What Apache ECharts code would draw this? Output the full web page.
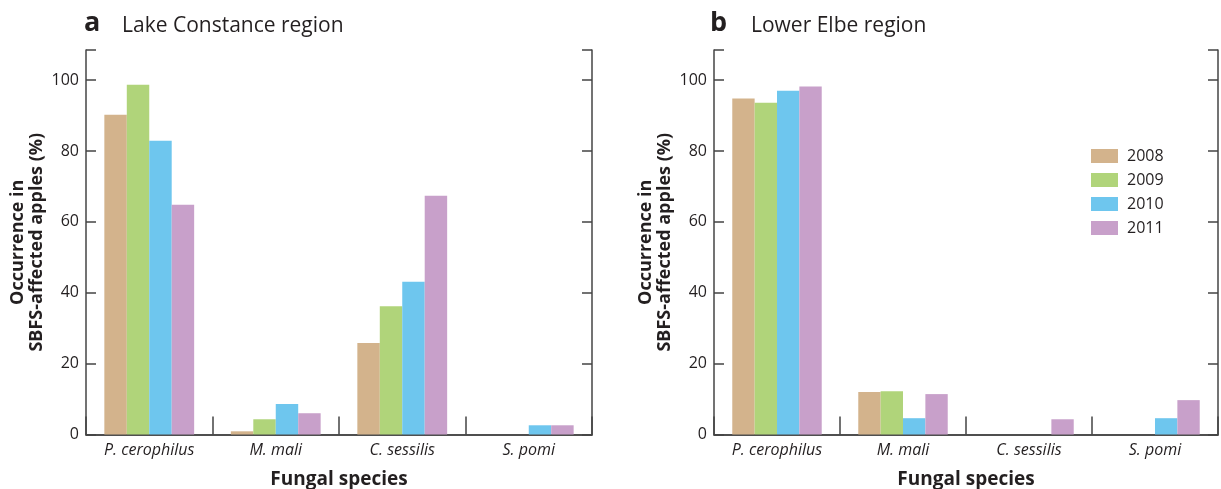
<!DOCTYPE html>
<html><head><meta charset="utf-8">
<script src="https://cdn.jsdelivr.net/npm/echarts@6/dist/echarts.min.js"></script>
<style>html,body{margin:0;padding:0;background:#fff}#c{width:1221px;height:489px}</style>
</head><body><div id="c"></div>
<script>
const categories = ['P. cerophilus', 'M. mali', 'C. sessilis', 'S. pomi'];
const years = ['2008', '2009', '2010', '2011'];
const yearColors = ['#D3B38C', '#B0D47A', '#6EC6EE', '#C8A0CA'];
const yTicks = [0, 20, 40, 60, 80, 100];
// Lake Constance region
const lake2008 = [90.2, 0.9, 25.8, 0];
const lake2009 = [98.7, 4.3, 36.2, 0];
const lake2010 = [82.9, 8.6, 43.1, 2.6];
const lake2011 = [64.8, 6.0, 67.4, 2.6];
// Lower Elbe region
const elbe2008 = [94.8, 12.0, 0, 0];
const elbe2009 = [93.6, 12.2, 0, 0];
const elbe2010 = [97.0, 4.6, 0, 4.6];
const elbe2011 = [98.2, 11.4, 4.3, 9.7];

const FONT = '"Open Sans", "Noto Sans", sans-serif';
const TXT = '#231f20';
const AX = '#444';
const YMAX = 108.5;
const XT = 9, YT = 10;

const chart = echarts.init(document.getElementById('c'), null, {renderer: 'canvas'});

function grid(left, width) {
  return {left: left, top: 50, width: width, height: 384.5, show: false,
          containLabel: false, outerBoundsMode: 'none'};
}
const tickStyle = {color: AX, width: 1.5};
const lineOn = {show: true, lineStyle: {color: AX, width: 1.5}};

// gi: data grid index, hi: helper grid index (same rect, carries inward ticks)
function xAxes(gi, hi) {
  return [
    {type: 'category', gridIndex: gi, data: categories, position: 'bottom',
     axisLine: lineOn, axisTick: {show: false},
     axisLabel: {fontFamily: FONT, fontSize: 16, fontStyle: 'italic', color: TXT, margin: 8},
     name: 'Fungal species', nameLocation: 'middle', nameGap: 36,
     nameTextStyle: {fontFamily: FONT, fontSize: 19, fontWeight: 'bold', color: TXT}},
    {type: 'category', gridIndex: gi, data: categories, position: 'top',
     axisLine: lineOn, axisTick: {show: false}, axisLabel: {show: false}},
    {type: 'category', gridIndex: hi, data: categories, position: 'bottom', offset: -XT,
     axisLine: {show: false}, axisTick: {show: true, length: XT, lineStyle: tickStyle},
     axisLabel: {show: false}},
    {type: 'category', gridIndex: hi, data: categories, position: 'top', offset: -XT,
     axisLine: {show: false}, axisTick: {show: true, length: XT, lineStyle: tickStyle},
     axisLabel: {show: false}}
  ];
}
function yAxes(gi, hi) {
  const base = {type: 'value', min: 0, max: YMAX, interval: 20, splitLine: {show: false}};
  return [
    Object.assign({}, base, {gridIndex: gi, position: 'left',
     axisLine: lineOn, axisTick: {show: false},
     axisLabel: {fontFamily: FONT, fontSize: 16, color: TXT, margin: 7, showMaxLabel: false,
       formatter: v => yTicks.indexOf(v) >= 0 ? String(v) : ''},
     name: 'Occurrence in\nSBFS-affected apples (%)', nameLocation: 'middle', nameGap: 40,
     nameTextStyle: {fontFamily: FONT, fontSize: 18, fontWeight: 'bold', color: TXT, lineHeight: 19}}),
    Object.assign({}, base, {gridIndex: gi, position: 'right',
     axisLine: lineOn, axisTick: {show: false}, axisLabel: {show: false}}),
    Object.assign({}, base, {gridIndex: hi, position: 'left', offset: -YT,
     axisLine: {show: false}, axisTick: {show: true, length: YT, lineStyle: tickStyle},
     axisLabel: {show: false, showMaxLabel: false}}),
    Object.assign({}, base, {gridIndex: hi, position: 'right', offset: -YT,
     axisLine: {show: false}, axisTick: {show: true, length: YT, lineStyle: tickStyle},
     axisLabel: {show: false, showMaxLabel: false}})
  ];
}

const lakeData = [lake2008, lake2009, lake2010, lake2011];
const elbeData = [elbe2008, elbe2009, elbe2010, elbe2011];
const series = [];
[lakeData, elbeData].forEach((set, p) => {
  set.forEach((vals, i) => {
    series.push({
      type: 'bar', name: years[i], xAxisIndex: p * 4, yAxisIndex: p * 4,
      data: vals, barGap: '0%', barCategoryGap: '29%',
      itemStyle: {color: yearColors[i]}, emphasis: {disabled: true}, silent: true
    });
  });
});

chart.setOption({
  animation: false,
  backgroundColor: '#fff',
  title: [
    {text: 'a', left: 84, top: 10, padding: 0, textStyle: {fontFamily: FONT, fontSize: 27, fontWeight: 'bold', color: TXT}},
    {text: 'Lake Constance region', left: 122, top: 16, padding: 0, textStyle: {fontFamily: FONT, fontSize: 21, fontWeight: 'normal', color: TXT}},
    {text: 'b', left: 710, top: 10, padding: 0, textStyle: {fontFamily: FONT, fontSize: 27, fontWeight: 'bold', color: TXT}},
    {text: 'Lower Elbe region', left: 751, top: 16, padding: 0, textStyle: {fontFamily: FONT, fontSize: 21, fontWeight: 'normal', color: TXT}}
  ],
  legend: {
    data: years, orient: 'vertical', left: 1091, top: 148, padding: 0,
    itemWidth: 27, itemHeight: 14, itemGap: 8, icon: 'rect',
    textStyle: {fontFamily: FONT, fontSize: 16, color: TXT, padding: [0, 0, 0, 4]},
    selectedMode: false
  },
  grid: [grid(86, 506), grid(86, 506), grid(714, 504), grid(714, 504)],
  xAxis: [...xAxes(0, 1), ...xAxes(2, 3)],
  yAxis: [...yAxes(0, 1), ...yAxes(2, 3)],
  series: series
});
</script></body></html>
